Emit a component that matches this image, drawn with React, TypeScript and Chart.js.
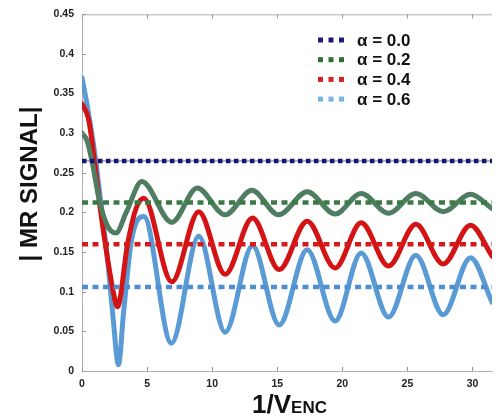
import React, { useEffect, useRef } from "react";
import { Chart, registerables } from "chart.js";

Chart.register(...registerables);

// ---- data ----
const seriesLabels = ["α = 0.0", "α = 0.2", "α = 0.4", "α = 0.6"];
const levelValues = [0.265, 0.2125, 0.16, 0.106];
const levelStartX = 0;
const levelEndX = 31.5;

const a02X = [0, 0.4, 0.8, 1.3, 1.9, 2.6, 3.4, 4.6, 6.9, 8.85, 11.0, 13.05, 15.1, 17.3, 19.45, 21.45, 23.55, 25.65, 27.75, 29.85, 31.5];
const a02Y = [0.3, 0.29, 0.262, 0.218, 0.185, 0.174, 0.2, 0.239, 0.1875, 0.231, 0.197, 0.228, 0.197, 0.226, 0.198, 0.224, 0.199, 0.224, 0.201, 0.223, 0.205];

const a04X = [0, 0.5, 0.92, 1.4, 2.0, 2.4, 2.72, 3.5, 4.15, 4.75, 6.9, 8.97, 11.0, 13.1, 15.15, 17.3, 19.45, 21.45, 23.55, 25.65, 27.75, 29.85, 31.5];
const a04Y = [0.337, 0.318, 0.27, 0.205, 0.138, 0.1, 0.081, 0.16, 0.205, 0.218, 0.1125, 0.201, 0.122, 0.193, 0.128, 0.189, 0.13, 0.187, 0.1325, 0.185, 0.135, 0.184, 0.145];

const a06X = [0, 0.45, 1.0, 1.5, 2.0, 2.4, 2.8, 3.2, 3.8, 4.75, 6.87, 8.97, 11.0, 13.1, 15.15, 17.3, 19.45, 21.45, 23.55, 25.65, 27.75, 29.85, 31.5];
const a06Y = [0.37, 0.33, 0.272, 0.205, 0.135, 0.065, 0.008, 0.075, 0.165, 0.195, 0.035, 0.17, 0.049, 0.158, 0.058, 0.153, 0.063, 0.149, 0.068, 0.146, 0.071, 0.143, 0.087];

const xTicks = [0, 5, 10, 15, 20, 25, 30];
const yTicks = [0, 0.05, 0.1, 0.15, 0.2, 0.25, 0.3, 0.35, 0.4, 0.45];
const yTickLabels = ["0", "0.05", "0.1", "0.15", "0.2", "0.25", "0.3", "0.35", "0.4", "0.45"];
const xMin = 0;
const xMax = 31.5;
const yMin = 0;
const yMax = 0.45;

const yTitle = "| MR SIGNAL|";
const xTitleMain = "1/V";
const xTitleSub = "ENC";

// ---- styles ----
const levelColors = ["#16166b", "#3b7a45", "#d41a1a", "#4f8fcf"];
const legendColors = ["#1c1c7a", "#2f6f35", "#d42020", "#73b4e2"];
const curveColors = ["#4f7d62", "#d41414", "#5b9bd5"];
const FONT = "Arial, 'Liberation Sans', sans-serif";

const pts = (xs: number[], ys: number[]) => xs.map((x, i) => ({ x, y: ys[i] }));

const decorPlugin = {
  id: "decor",
  afterDraw(chart: any) {
    const ctx = chart.ctx as CanvasRenderingContext2D;
    const { left, top, right, bottom } = chart.chartArea;
    const xs = chart.scales.x;
    const ys = chart.scales.y;
    ctx.save();
    // top frame line
    ctx.strokeStyle = "#b0b0b0";
    ctx.lineWidth = 1;
    ctx.beginPath();
    ctx.moveTo(left, top + 0.5);
    ctx.lineTo(right, top + 0.5);
    ctx.stroke();
    // inward tick marks
    ctx.strokeStyle = "#999";
    ctx.beginPath();
    xTicks.forEach((v) => {
      const px = Math.round(xs.getPixelForValue(v)) + 0.5;
      ctx.moveTo(px, bottom);
      ctx.lineTo(px, bottom - 4);
      ctx.moveTo(px, top);
      ctx.lineTo(px, top + 4);
    });
    yTicks.forEach((v) => {
      const py = Math.round(ys.getPixelForValue(v)) + 0.5;
      ctx.moveTo(left, py);
      ctx.lineTo(left + 4, py);
    });
    ctx.stroke();

    // y title
    ctx.fillStyle = "#111";
    ctx.save();
    ctx.translate(30, 184);
    ctx.rotate(-Math.PI / 2);
    ctx.font = `bold 24px ${FONT}`;
    ctx.textAlign = "center";
    ctx.textBaseline = "middle";
    ctx.fillText(yTitle, 0, 0);
    ctx.restore();

    // x title
    ctx.textBaseline = "alphabetic";
    ctx.textAlign = "left";
    ctx.font = `bold 26px ${FONT}`;
    const w1 = ctx.measureText(xTitleMain).width;
    ctx.font = `bold 17px ${FONT}`;
    const w2 = ctx.measureText(xTitleSub).width;
    const x0 = 289.5 - (w1 + w2) / 2;
    ctx.font = `bold 26px ${FONT}`;
    ctx.fillText(xTitleMain, x0, 413);
    ctx.font = `bold 17px ${FONT}`;
    ctx.fillText(xTitleSub, x0 + w1, 413);

    // legend
    ctx.font = `bold 17px ${FONT}`;
    ctx.textBaseline = "middle";
    seriesLabels.forEach((lab, i) => {
      const cy = 40 + i * 19.7;
      ctx.fillStyle = legendColors[i];
      for (let k = 0; k < 3; k++) {
        ctx.fillRect(318 + k * 10.5, cy - 2.5, 5, 5);
      }
      ctx.fillStyle = "#111";
      ctx.fillText(lab, 357, cy + 1);
    });
    ctx.restore();
  },
};

export default function App() {
  const ref = useRef<HTMLCanvasElement | null>(null);
  useEffect(() => {
    document.body.style.margin = "0";
    const canvas = ref.current!;
    const levelDs = levelValues.map((lv, i) => ({
      label: seriesLabels[i],
      data: [
        { x: levelStartX, y: lv },
        { x: levelEndX, y: lv },
      ],
      borderColor: levelColors[i],
      borderWidth: 4.5,
      borderDash: i === 0 ? [4.5, 3.5] : [6, 4.5],
      borderCapStyle: "butt" as const,
      pointRadius: 0,
      order: 0,
    }));
    const navyThin = {
      label: "thin",
      data: [
        { x: levelStartX, y: levelValues[0] },
        { x: levelEndX, y: levelValues[0] },
      ],
      borderColor: "#5a5a9a",
      borderWidth: 1,
      pointRadius: 0,
      order: 1,
    };
    const curve = (xs: number[], ys: number[], color: string, label: string) => ({
      label,
      data: pts(xs, ys),
      borderColor: color,
      borderWidth: 5,
      pointRadius: 0,
      cubicInterpolationMode: "monotone" as const,
      borderJoinStyle: "round" as const,
      borderCapStyle: "round" as const,
      order: 2,
    });
    const chart = new Chart(canvas, {
      type: "line",
      data: {
        datasets: [
          ...levelDs,
          navyThin,
          curve(a02X, a02Y, curveColors[0], seriesLabels[1]),
          curve(a04X, a04Y, curveColors[1], seriesLabels[2]),
          curve(a06X, a06Y, curveColors[2], seriesLabels[3]),
        ] as any,
      },
      options: {
        animation: false,
        responsive: false,
        maintainAspectRatio: false,
        layout: { padding: { left: 0, top: 11, right: 8, bottom: 0 } },
        plugins: { legend: { display: false }, tooltip: { enabled: false } },
        scales: {
          x: {
            type: "linear",
            min: xMin,
            max: xMax,
            afterBuildTicks: (s: any) => {
              s.ticks = xTicks.map((v) => ({ value: v }));
            },
            afterFit: (s: any) => {
              s.height = 45;
            },
            grid: { drawOnChartArea: false, drawTicks: false },
            border: { display: true, color: "#b0b0b0", width: 1 },
            ticks: {
              padding: 7,
              color: "#222",
              font: { family: FONT, size: 10.5, weight: "bold" },
            },
          },
          y: {
            type: "linear",
            min: yMin,
            max: yMax,
            afterBuildTicks: (s: any) => {
              s.ticks = yTicks.map((v) => ({ value: v }));
            },
            afterFit: (s: any) => {
              s.width = 82;
            },
            grid: { drawOnChartArea: false, drawTicks: false },
            border: { display: true, color: "#b0b0b0", width: 1 },
            ticks: {
              padding: 8,
              color: "#222",
              font: { family: FONT, size: 10.5, weight: "bold" },
              callback: (_v: any, idx: number) => yTickLabels[idx],
            },
          },
        },
      } as any,
      plugins: [decorPlugin],
    });
    return () => chart.destroy();
  }, []);
  return (
    <div style={{ width: 500, height: 416 }}>
      <canvas ref={ref} width={500} height={416} style={{ display: "block", width: 500, height: 416 }} />
    </div>
  );
}
